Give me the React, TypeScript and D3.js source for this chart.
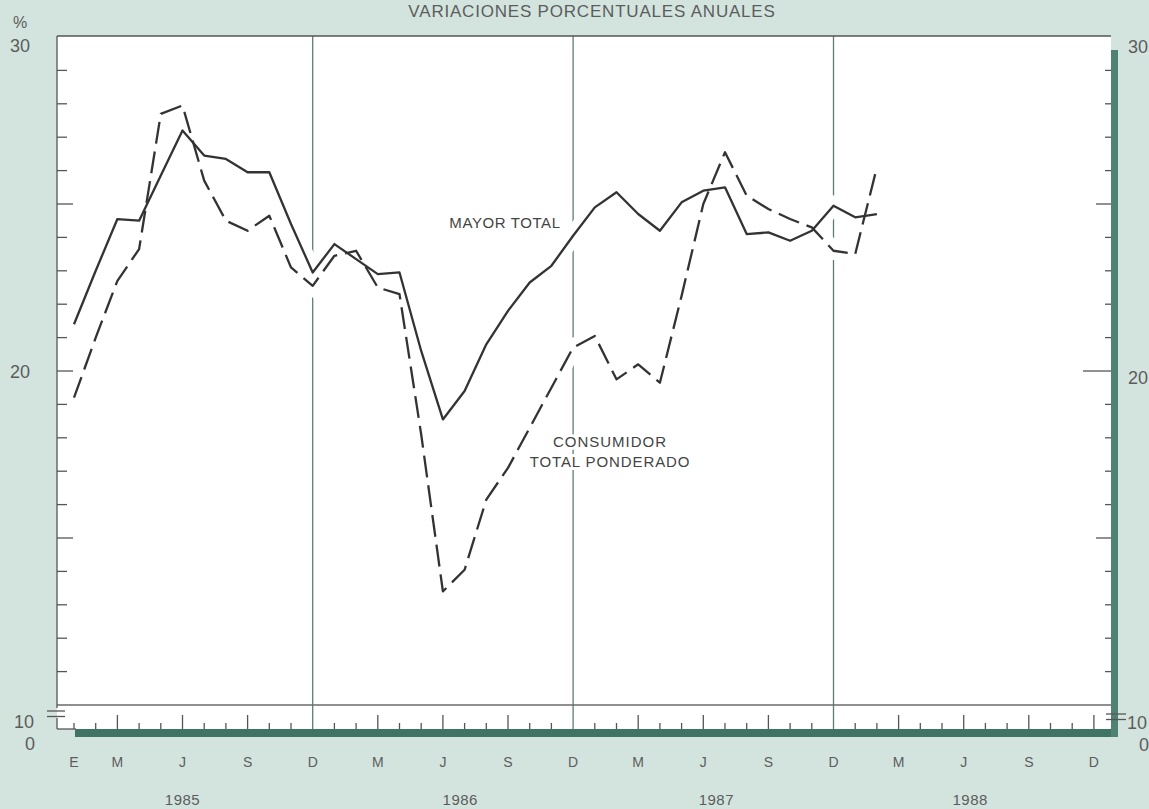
import React from 'react';
import * as d3 from 'd3';

const W = 1149;
const H = 809;

// Monthly annual % variations, Jan 1985 .. Feb 1988
const mayorTotal = [
  21.4, 23.0, 24.55, 24.5, 25.85, 27.2, 26.45, 26.35, 25.95, 25.95, 24.4, 22.95,
  23.8, 23.35, 22.9, 22.95, 20.6, 18.55, 19.4, 20.8, 21.8, 22.65, 23.15, 24.05,
  24.9, 25.35, 24.7, 24.2, 25.05, 25.4, 25.5, 24.1, 24.15, 23.9, 24.2, 24.95,
  24.6, 24.7,
];
const consumidor = [
  19.2, 21.0, 22.7, 23.65, 27.7, 27.95, 25.7, 24.5, 24.2, 24.65, 23.1, 22.55,
  23.45, 23.6, 22.5, 22.3, 18.1, 13.4, 14.05, 16.15, 17.1, 18.3, 19.5, 20.7,
  21.05, 19.75, 20.2, 19.65, 22.25, 25.0, 26.55, 25.25, 24.85, 24.55, 24.3, 23.6,
  23.5, 26.1,
];

const monthTickIndex = [0, 2, 5, 8, 11, 14, 17, 20, 23, 26, 29, 32, 35, 38, 41, 44, 47];
const monthTickText = ['E', 'M', 'J', 'S', 'D', 'M', 'J', 'S', 'D', 'M', 'J', 'S', 'D', 'M', 'J', 'S', 'D'];
const years = ['1985', '1986', '1987', '1988'];
const yearLabelMonth = [5, 17.8, 29.6, 41.3];
const yearEndIndex = [11, 23, 35];
const leftAxisLabels = ['30', '20', '10', '0'];

const TITLE = 'VARIACIONES PORCENTUALES ANUALES';
const BG = '#d3e4de';
const TEAL = '#3f7464';
const INK = '#333';
const TXT = '#5c5c5c';
const FONT = '"Liberation Sans", Arial, Helvetica, sans-serif';

export default function App() {
  const PL = 57, PR = 1111, PT = 36, PB = 729;
  const x = d3.scaleLinear().domain([0, 47]).range([74, 74 + 47 * 21.7]);
  const y = d3.scaleLinear().domain([10, 30]).range([705, 37]);

  const line = d3
    .line<number>()
    .x((_, i) => x(i))
    .y((d) => y(d));

  const minorY = d3.range(11, 30);
  const monthIdx = d3.range(0, 48).filter((i) => !yearEndIndex.includes(i));

  const leftLen = (v: number) => (v % 5 === 0 ? 16 : 10);
  const rightLen = (v: number) => (v === 20 ? 28 : v % 5 === 0 ? 15 : 6);

  const halo = { stroke: '#fff', strokeWidth: 6, paintOrder: 'stroke' as const, strokeLinejoin: 'round' as const };

  return (
    <svg
      width={W}
      height={H}
      style={{ position: 'absolute', left: 0, top: 0, fontFamily: FONT }}
    >
      <rect x={0} y={0} width={W} height={H} fill={BG} />
      {/* title */}
      <text x={592} y={17} textAnchor="middle" fontSize={17} fill={TXT} letterSpacing={0.8}>
        {TITLE}
      </text>
      {/* plot area */}
      <rect x={PL} y={PT} width={PR - PL} height={PB - PT} fill="#fff" />
      {/* year separators */}
      {yearEndIndex.map((i) => (
        <line key={'v' + i} x1={x(i)} x2={x(i)} y1={PT} y2={PB} stroke="#5f7d74" strokeWidth={1.3} />
      ))}
      {/* 10% baseline */}
      <line x1={PL} x2={PR} y1={y(10)} y2={y(10)} stroke="#6a6a6a" strokeWidth={1.3} />
      {/* borders */}
      <line x1={PL} x2={PR} y1={PT} y2={PT} stroke="#555" strokeWidth={1.3} />
      <line x1={PL} x2={PL} y1={PT} y2={708} stroke="#555" strokeWidth={1.3} />
      <line x1={PL} x2={PL} y1={718} y2={PB} stroke="#555" strokeWidth={1.3} />
      <line x1={PL} x2={76} y1={PB} y2={PB} stroke="#555" strokeWidth={1.3} />
      <line x1={47} x2={65} y1={711} y2={711} stroke="#555" strokeWidth={1.3} />
      <line x1={47} x2={65} y1={716.5} y2={716.5} stroke="#555" strokeWidth={1.3} />
      <rect x={75} y={PB} width={1118 - 75} height={8} fill={TEAL} />
      <rect x={PR} y={50} width={7} height={PB + 8 - 50} fill="#4f8272" />
      <line x1={1106} x2={1126} y1={714} y2={714} stroke="#555" strokeWidth={1.3} />
      <line x1={1106} x2={1126} y1={719.5} y2={719.5} stroke="#555" strokeWidth={1.3} />
      {/* y ticks */}
      {minorY.map((v) => (
        <g key={'yt' + v}>
          <line x1={PL} x2={PL + leftLen(v)} y1={y(v)} y2={y(v)} stroke="#555" strokeWidth={1.3} />
          <line x1={PR - rightLen(v)} x2={PR} y1={y(v)} y2={y(v)} stroke="#555" strokeWidth={1.3} />
        </g>
      ))}
      {/* month ticks */}
      {monthIdx.map((i) => (
        <line
          key={'mt' + i}
          x1={x(i)}
          x2={x(i)}
          y1={PB}
          y2={PB - (i % 3 === 2 ? 14 : 6)}
          stroke="#555"
          strokeWidth={1.3}
        />
      ))}
      {/* y labels */}
      <text x={20} y={28} textAnchor="middle" fontSize={16} fill={TXT}>%</text>
      <text x={20} y={52} textAnchor="middle" fontSize={18} fill={TXT}>{leftAxisLabels[0]}</text>
      <text x={20} y={378} textAnchor="middle" fontSize={18} fill={TXT}>{leftAxisLabels[1]}</text>
      <text x={24} y={728} textAnchor="middle" fontSize={18} fill={TXT}>{leftAxisLabels[2]}</text>
      <text x={30} y={750} textAnchor="middle" fontSize={18} fill={TXT}>{leftAxisLabels[3]}</text>
      <text x={1128} y={53} fontSize={18} fill={TXT}>{leftAxisLabels[0]}</text>
      <text x={1128} y={384} fontSize={18} fill={TXT}>{leftAxisLabels[1]}</text>
      <text x={1127} y={729} fontSize={18} fill={TXT}>{leftAxisLabels[2]}</text>
      <text x={1139} y={751} fontSize={18} fill={TXT}>{leftAxisLabels[3]}</text>
      {/* month labels */}
      {monthTickIndex.map((i, k) => (
        <text key={'ml' + k} x={x(i)} y={767} textAnchor="middle" fontSize={14} fill={TXT}>
          {monthTickText[k]}
        </text>
      ))}
      {years.map((yr, k) => (
        <text key={yr} x={x(yearLabelMonth[k])} y={805} textAnchor="middle" fontSize={15} fill={TXT} letterSpacing={0.5}>
          {yr}
        </text>
      ))}
      {/* halos */}
      <path d={line(mayorTotal) || ''} fill="none" stroke="#fff" strokeWidth={18} />
      <path d={line(consumidor) || ''} fill="none" stroke="#fff" strokeWidth={18} />
      {/* series */}
      <path d={line(mayorTotal) || ''} fill="none" stroke={INK} strokeWidth={2.3} strokeLinejoin="round" />
      <path
        d={line(consumidor) || ''}
        fill="none"
        stroke={INK}
        strokeWidth={2.3}
        strokeDasharray="22 8"
        strokeLinejoin="round"
      />
      {/* series labels */}
      <text x={505} y={228} textAnchor="middle" fontSize={15} fill="#444" letterSpacing={0.6} {...halo}>MAYOR TOTAL</text>
      <text x={610} y={447} textAnchor="middle" fontSize={15} fill="#444" letterSpacing={1} {...halo}>CONSUMIDOR</text>
      <text x={610} y={467} textAnchor="middle" fontSize={15} fill="#444" letterSpacing={0.9} {...halo}>TOTAL PONDERADO</text>
    </svg>
  );
}
